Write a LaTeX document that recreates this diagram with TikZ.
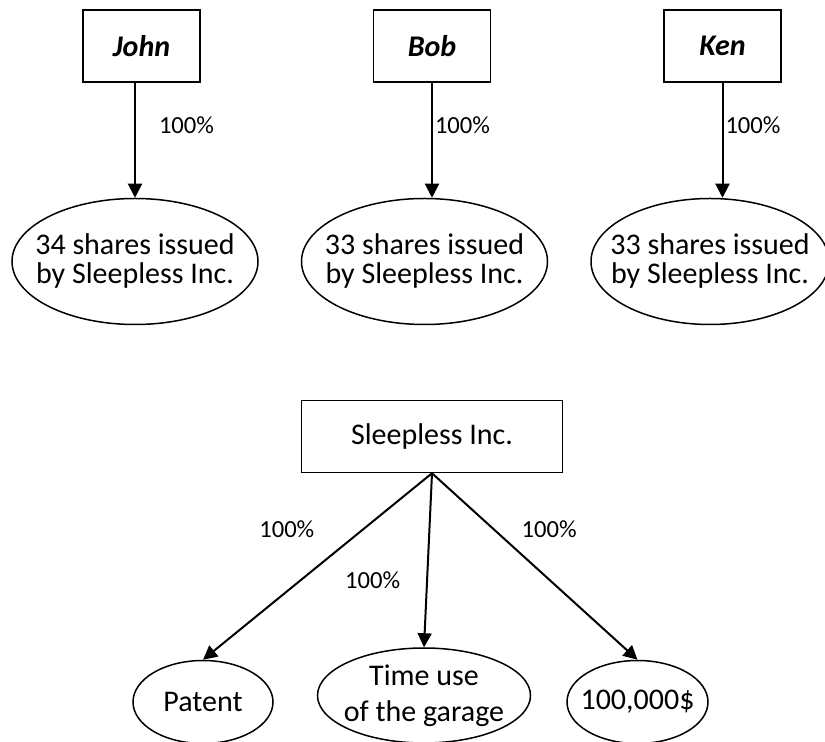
\documentclass[tikz,border=0pt]{standalone}
\usepackage{fontspec}
\setmainfont{Carlito}
\usepackage{tikz}
\usetikzlibrary{arrows.meta,positioning,shapes.geometric}
\tikzset{
    %Define standard arrow tip
    >={Triangle[length=7pt,width=7pt]},
    %Define style for boxes
    owner/.style={
           rectangle,
           draw=black, line width=.75pt,
           minimum width=58.5pt,
           minimum height=36pt,
           font=\fontsize{15}{17}\selectfont\bfseries\itshape,
           text centered},
    company/.style={
           rectangle,
           draw=black, line width=.75pt,
           minimum width=130.5pt,
           minimum height=36pt,
           font=\fontsize{15}{17}\selectfont,
           text centered},
    %Define style for ellipses
    asset/.style={
           ellipse,
           draw=black, line width=.75pt,
           inner xsep=-8pt, inner ysep=0pt,
           minimum width=70pt,
           minimum height=41.5pt,
           font=\fontsize{15}{17}\selectfont,
           align=center},
    shares/.style={
           asset,
           minimum width=123pt,
           minimum height=63pt,
           font=\fontsize{15}{14.5}\selectfont},
    % Define style for percentages
    pct/.style={
           inner sep=0pt,
           font=\fontsize{12.3}{14}\selectfont}
}

\begin{document}
\begin{tikzpicture}[->,line width=1pt,node distance=1cm]
\useasboundingbox (0,0) rectangle (412.5pt,-371pt);

 %nodes
\node[owner] (john) at (70.75pt,-23pt) {John};
\node[owner, right=86pt of john] (bob) {Bob};
\node[owner, right=86pt of bob] (ken) {Ken};
\node[shares, below=57.5pt of john, xshift=-3.25pt] (jshares) {34 shares issued\\by Sleepless Inc.};
\node[shares, below=57.5pt of bob, xshift=-3.75pt] (bshares) {33 shares issued\\by Sleepless Inc.};
\node[shares, below=57.5pt of ken, xshift=-6.25pt, minimum width=119pt] (kshares) {33 shares issued\\by Sleepless Inc.};
\node[company, below=158.5pt of bob] (sleepless) {Sleepless Inc.};
\node[asset, below=87pt of sleepless, xshift=-4pt, minimum width=106.5pt, minimum height=47.5pt,
      font=\fontsize{15}{18}\selectfont] (garage) {Time use\\of the garage};
\node[asset, left=21.5pt of garage, yshift=-3.25pt] (patent) {Patent};
\node[asset, right=17.5pt of garage, yshift=-3.25pt, minimum width=70.5pt] (cash) {100,000\$};

 %connectors
\path[every node/.style={pct}]
    (jshares.north |- john.south) edge node[pos=.365, right=11.5pt] {100\%} (jshares.north)
    (bob.south) edge node[pos=.365, right=1pt] {100\%} (bob.south |- bshares.north)
    (ken.south) edge node[pos=.365, right=1pt] {100\%} (ken.south |- kshares.north)
    (sleepless.south) edge node[pos=.3, left=24pt] {100\%} (patent.north)
    (sleepless.south) edge node[pos=.615, left=13pt] {100\%} (garage.north)
    (sleepless.south) edge node[pos=.3, right=13.5pt] {100\%} (cash.north);

\end{tikzpicture}
\end{document}
